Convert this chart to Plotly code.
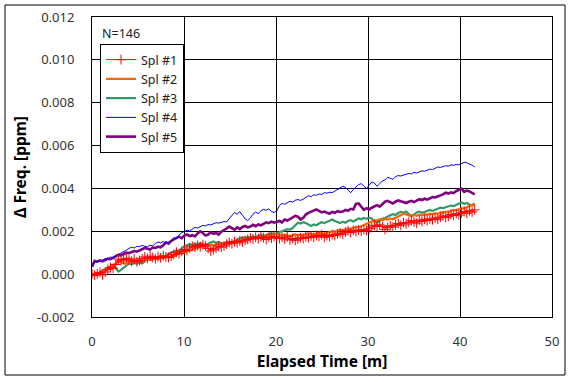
import numpy as np
import plotly.graph_objects as go

# Sampling: N=146 points, roughly one every 0.287 min
N_POINTS = 146
T_STEP = 0.2869  # minutes between samples
time_min = np.arange(N_POINTS) * T_STEP

# Series values in units of 1e-3 ppm
SPL1 = [0.00, -0.05, 0.02, 0.08, -0.03, 0.10, 0.22, 0.30, 0.28, 0.45,
        0.70, 0.62, 0.68, 0.74, 0.66, 0.60, 0.70, 0.58, 0.64, 0.72,
        0.80, 0.74, 0.84, 0.78, 0.72, 0.82, 0.76, 0.86, 0.80, 0.78,
        0.84, 0.92, 1.02, 0.96, 1.06, 1.15, 1.10, 1.22, 1.30, 1.26,
        1.34, 1.28, 1.38, 1.32, 1.20, 1.08, 1.14, 1.22, 1.30, 1.26,
        1.32, 1.40, 1.48, 1.42, 1.52, 1.46, 1.55, 1.50, 1.58, 1.62,
        1.68, 1.64, 1.72, 1.66, 1.74, 1.70, 1.62, 1.72, 1.68, 1.76,
        1.70, 1.66, 1.72, 1.64, 1.74, 1.60, 1.66, 1.58, 1.64, 1.70,
        1.66, 1.74, 1.70, 1.78, 1.72, 1.80, 1.76, 1.84, 1.72, 1.80,
        1.76, 1.84, 1.80, 1.88, 1.92, 1.86, 1.96, 2.02, 1.94, 2.04,
        1.98, 2.06, 2.00, 2.08, 2.04, 2.12, 2.20, 2.28, 2.24, 2.30,
        2.22, 2.08, 2.18, 2.26, 2.20, 2.30, 2.36, 2.28, 2.40, 2.34,
        2.42, 2.50, 2.44, 2.38, 2.52, 2.46, 2.56, 2.50, 2.58, 2.54,
        2.62, 2.56, 2.66, 2.72, 2.64, 2.70, 2.78, 2.74, 2.82, 2.76,
        2.86, 2.92, 2.84, 2.96, 2.90, 3.00]

SPL2 = [-0.02, 0.02, 0.00, 0.05, 0.12, 0.18, 0.28, 0.32, 0.40, 0.52,
        0.60, 0.55, 0.50, 0.48, 0.52, 0.56, 0.60, 0.58, 0.62, 0.60,
        0.66, 0.70, 0.68, 0.72, 0.70, 0.74, 0.78, 0.76, 0.80, 0.78,
        0.82, 0.86, 0.92, 0.96, 0.98, 1.02, 1.08, 1.12, 1.16, 1.20,
        1.22, 1.26, 1.30, 1.28, 1.32, 1.36, 1.34, 1.38, 1.42, 1.40,
        1.44, 1.48, 1.46, 1.52, 1.55, 1.58, 1.54, 1.60, 1.64, 1.62,
        1.66, 1.70, 1.68, 1.72, 1.76, 1.74, 1.78, 1.82, 1.80, 1.86,
        1.88, 1.84, 1.80, 1.84, 1.82, 1.78, 1.82, 1.86, 1.80, 1.84,
        1.82, 1.86, 1.90, 1.88, 1.85, 1.90, 1.94, 1.92, 1.88, 1.92,
        1.96, 2.00, 1.98, 2.02, 2.06, 2.04, 2.08, 2.12, 2.10, 2.16,
        2.20, 2.18, 2.24, 2.30, 2.36, 2.42, 2.48, 2.52, 2.50, 2.56,
        2.52, 2.58, 2.55, 2.60, 2.56, 2.62, 2.68, 2.76, 2.82, 2.78,
        2.74, 2.70, 2.76, 2.72, 2.78, 2.74, 2.80, 2.76, 2.82, 2.80,
        2.84, 2.82, 2.88, 2.86, 2.92, 2.90, 2.96, 3.00, 2.98, 3.04,
        3.08, 3.06, 3.12, 3.16, 3.24, 3.30]

SPL3 = [-0.10, 0.02, -0.05, 0.10, 0.18, 0.22, 0.30, 0.38, 0.42, 0.28,
        0.12, 0.20, 0.30, 0.42, 0.50, 0.46, 0.52, 0.48, 0.55, 0.50,
        0.62, 0.70, 0.66, 0.72, 0.76, 0.70, 0.78, 0.74, 0.82, 0.95,
        1.00, 1.05, 1.10, 1.08, 1.20, 1.30, 1.35, 1.40, 1.36, 1.42,
        1.38, 1.44, 1.40, 1.36, 1.42, 1.48, 1.52, 1.46, 1.50, 1.44,
        1.40, 1.46, 1.52, 1.48, 1.55, 1.60, 1.66, 1.72, 1.68, 1.74,
        1.70, 1.76, 1.72, 1.80, 1.84, 1.78, 1.82, 1.88, 1.92, 1.86,
        1.90, 1.94, 1.98, 2.05, 2.10, 2.08, 2.15, 2.28, 2.40, 2.36,
        2.42, 2.38, 2.30, 2.25, 2.32, 2.28, 2.36, 2.42, 2.38, 2.45,
        2.50, 2.55, 2.48, 2.42, 2.38, 2.45, 2.40, 2.48, 2.52, 2.46,
        2.55, 2.60, 2.56, 2.62, 2.58, 2.64, 2.60, 2.45, 2.40, 2.50,
        2.58, 2.62, 2.70, 2.75, 2.80, 2.76, 2.85, 2.90, 2.86, 2.92,
        2.80, 2.72, 2.78, 2.88, 2.92, 2.86, 2.90, 2.96, 3.00, 2.95,
        3.02, 3.05, 3.10, 3.08, 3.12, 3.15, 3.20, 3.18, 3.24, 3.30,
        3.34, 3.28, 3.32, 3.25, 3.20, 3.22]

SPL4 = [0.42, 0.55, 0.60, 0.58, 0.66, 0.72, 0.70, 0.80, 0.76, 0.88,
        0.92, 0.98, 1.05, 1.12, 1.20, 1.26, 1.22, 1.30, 1.28, 1.34,
        1.30, 1.27, 1.35, 1.32, 1.42, 1.50, 1.46, 1.52, 1.44, 1.48,
        1.55, 1.70, 1.66, 1.82, 1.95, 1.98, 2.05, 2.02, 2.10, 2.18,
        2.15, 2.22, 2.28, 2.25, 2.32, 2.30, 2.36, 2.40, 2.38, 2.42,
        2.45, 2.44, 2.60, 2.72, 2.88, 2.80, 2.92, 2.75, 2.58, 2.50,
        2.62, 2.80, 2.90, 2.82, 2.96, 3.02, 2.98, 3.05, 2.92, 2.88,
        2.95, 3.20, 3.30, 3.26, 3.32, 3.40, 3.36, 3.45, 3.48, 3.44,
        3.50, 3.58, 3.66, 3.62, 3.70, 3.68, 3.74, 3.72, 3.80, 3.78,
        3.82, 3.80, 3.88, 3.96, 4.02, 4.10, 4.05, 3.90, 3.80, 3.95,
        4.05, 4.18, 4.22, 4.10, 4.00, 4.15, 4.30, 4.25, 4.10, 4.22,
        4.35, 4.40, 4.52, 4.48, 4.42, 4.55, 4.60, 4.58, 4.62, 4.66,
        4.70, 4.68, 4.75, 4.72, 4.78, 4.82, 4.80, 4.86, 4.90, 4.88,
        4.95, 5.00, 4.98, 5.02, 5.06, 5.04, 5.10, 5.08, 5.12, 5.10,
        5.18, 5.22, 5.20, 5.15, 5.08, 5.00]

SPL5 = [0.35, 0.62, 0.58, 0.64, 0.60, 0.68, 0.72, 0.70, 0.78, 0.86,
        0.90, 0.88, 0.95, 1.00, 0.98, 1.02, 1.08, 1.05, 1.12, 1.18,
        1.22, 1.18, 1.15, 1.24, 1.22, 1.28, 1.25, 1.35, 1.48, 1.42,
        1.55, 1.62, 1.70, 1.75, 1.68, 1.80, 1.85, 1.78, 1.82, 1.76,
        1.90, 2.00, 1.92, 1.80, 1.85, 1.95, 1.88, 1.92, 1.85, 1.98,
        2.05, 2.12, 2.22, 2.15, 2.08, 2.18, 2.10, 2.20, 2.25, 2.18,
        2.22, 2.30, 2.24, 2.32, 2.28, 2.35, 2.42, 2.38, 2.45, 2.40,
        2.44, 2.48, 2.42, 2.55, 2.50, 2.58, 2.65, 2.72, 2.68, 2.55,
        2.62, 2.78, 2.86, 2.92, 2.98, 3.02, 2.95, 2.88, 2.92, 2.85,
        2.82, 2.90, 2.86, 2.94, 2.90, 2.92, 3.00, 2.96, 3.05, 3.02,
        3.28, 3.30, 3.12, 3.00, 3.08, 3.02, 3.10, 3.18, 3.22, 3.15,
        3.25, 3.38, 3.42, 3.35, 3.30, 3.38, 3.44, 3.40, 3.36, 3.32,
        3.38, 3.42, 3.36, 3.45, 3.50, 3.46, 3.52, 3.48, 3.55, 3.60,
        3.58, 3.62, 3.68, 3.72, 3.80, 3.76, 3.82, 3.78, 3.88, 3.92,
        3.98, 3.84, 3.90, 3.86, 3.78, 3.72]

SERIES_NAMES = ["Spl #1", "Spl #2", "Spl #3", "Spl #4", "Spl #5"]
SERIES_DATA = [SPL1, SPL2, SPL3, SPL4, SPL5]
X_TICKS = [0, 10, 20, 30, 40, 50]
Y_TICKS = [-0.002, 0.000, 0.002, 0.004, 0.006, 0.008, 0.010, 0.012]
Y_TICK_LABELS = ["-0.002", "0.000", "0.002", "0.004", "0.006", "0.008", "0.010", "0.012"]

styles = {
    "Spl #1": dict(color="#FF0000", width=1, mode="lines+markers"),
    "Spl #2": dict(color="#FF6600", width=2.2, mode="lines"),
    "Spl #3": dict(color="#339966", width=2.2, mode="lines"),
    "Spl #4": dict(color="#0000FF", width=1, mode="lines"),
    "Spl #5": dict(color="#800080", width=2.6, mode="lines"),
}

fig = go.Figure()
# draw last series first so Spl #1 ends up on top
for name, vals in reversed(list(zip(SERIES_NAMES, SERIES_DATA))):
    st = styles[name]
    kw = dict(
        x=time_min, y=np.array(vals) * 1e-3, name=name, mode=st["mode"],
        line=dict(color=st["color"], width=st["width"]),
    )
    if "markers" in st["mode"]:
        kw["marker"] = dict(symbol="cross-thin", size=7,
                            line=dict(color=st["color"], width=1))
    fig.add_trace(go.Scatter(**kw))

FONT = "Noto Sans"
L, R, T, B = 92, 19, 17, 65
W, H = 571, 382
pw, ph = W - L - R, H - T - B

fig.update_layout(
    width=W, height=H,
    margin=dict(l=L, r=R, t=T, b=B, pad=0, autoexpand=False),
    paper_bgcolor="white", plot_bgcolor="white",
    font=dict(family=FONT, size=12, color="#222222"),
    showlegend=True,
    legend=dict(
        x=(100 - L) / pw, y=(H - B - 44) / ph, xanchor="left", yanchor="top",
        bgcolor="white", bordercolor="black", borderwidth=1,
        traceorder="reversed", font=dict(family=FONT, size=12.5, color="#222222"),
        itemwidth=30, tracegroupgap=0,
    ),
    xaxis=dict(
        range=[0, 50], tickvals=X_TICKS, ticktext=[str(v) for v in X_TICKS],
        showgrid=True, gridcolor="black", gridwidth=1,
        showline=True, linecolor="black", linewidth=1, mirror=True,
        ticks="", ticklabelstandoff=12, zeroline=False, automargin=False,
        title=dict(text="<b>Elapsed Time [m]</b>", standoff=5,
                   font=dict(family=FONT, size=15.5, color="black")),
        tickfont=dict(family=FONT, size=13, color="#333333"),
    ),
    yaxis=dict(
        range=[-0.002, 0.012], tickvals=Y_TICKS, ticktext=Y_TICK_LABELS,
        showgrid=True, gridcolor="black", gridwidth=1,
        showline=True, linecolor="black", linewidth=1, mirror=True,
        ticks="", ticklabelstandoff=14, zeroline=False, automargin=False,
        title=dict(text="<b>Δ Freq. [ppm]</b>", standoff=6,
                   font=dict(family=FONT, size=15.5, color="black")),
        tickfont=dict(family=FONT, size=13, color="#333333"),
    ),
    annotations=[dict(
        text="N=146", xref="paper", yref="paper",
        x=(100 - L) / pw, y=(H - B - 33) / ph, xanchor="left", yanchor="middle",
        showarrow=False, font=dict(family=FONT, size=12.5, color="#222222"),
    )],
    shapes=[dict(
        type="rect", xref="paper", yref="paper",
        x0=(5 - L) / pw, x1=(565 - L) / pw,
        y0=(H - B - 375) / ph, y1=(H - B - 5) / ph,
        line=dict(color="black", width=1), fillcolor="rgba(0,0,0,0)", layer="above",
    )],
)

fig.write_html(
    "out.html",
    config={"displayModeBar": False},
    post_script="document.body.style.margin='0';document.body.style.overflow='hidden';",
)
